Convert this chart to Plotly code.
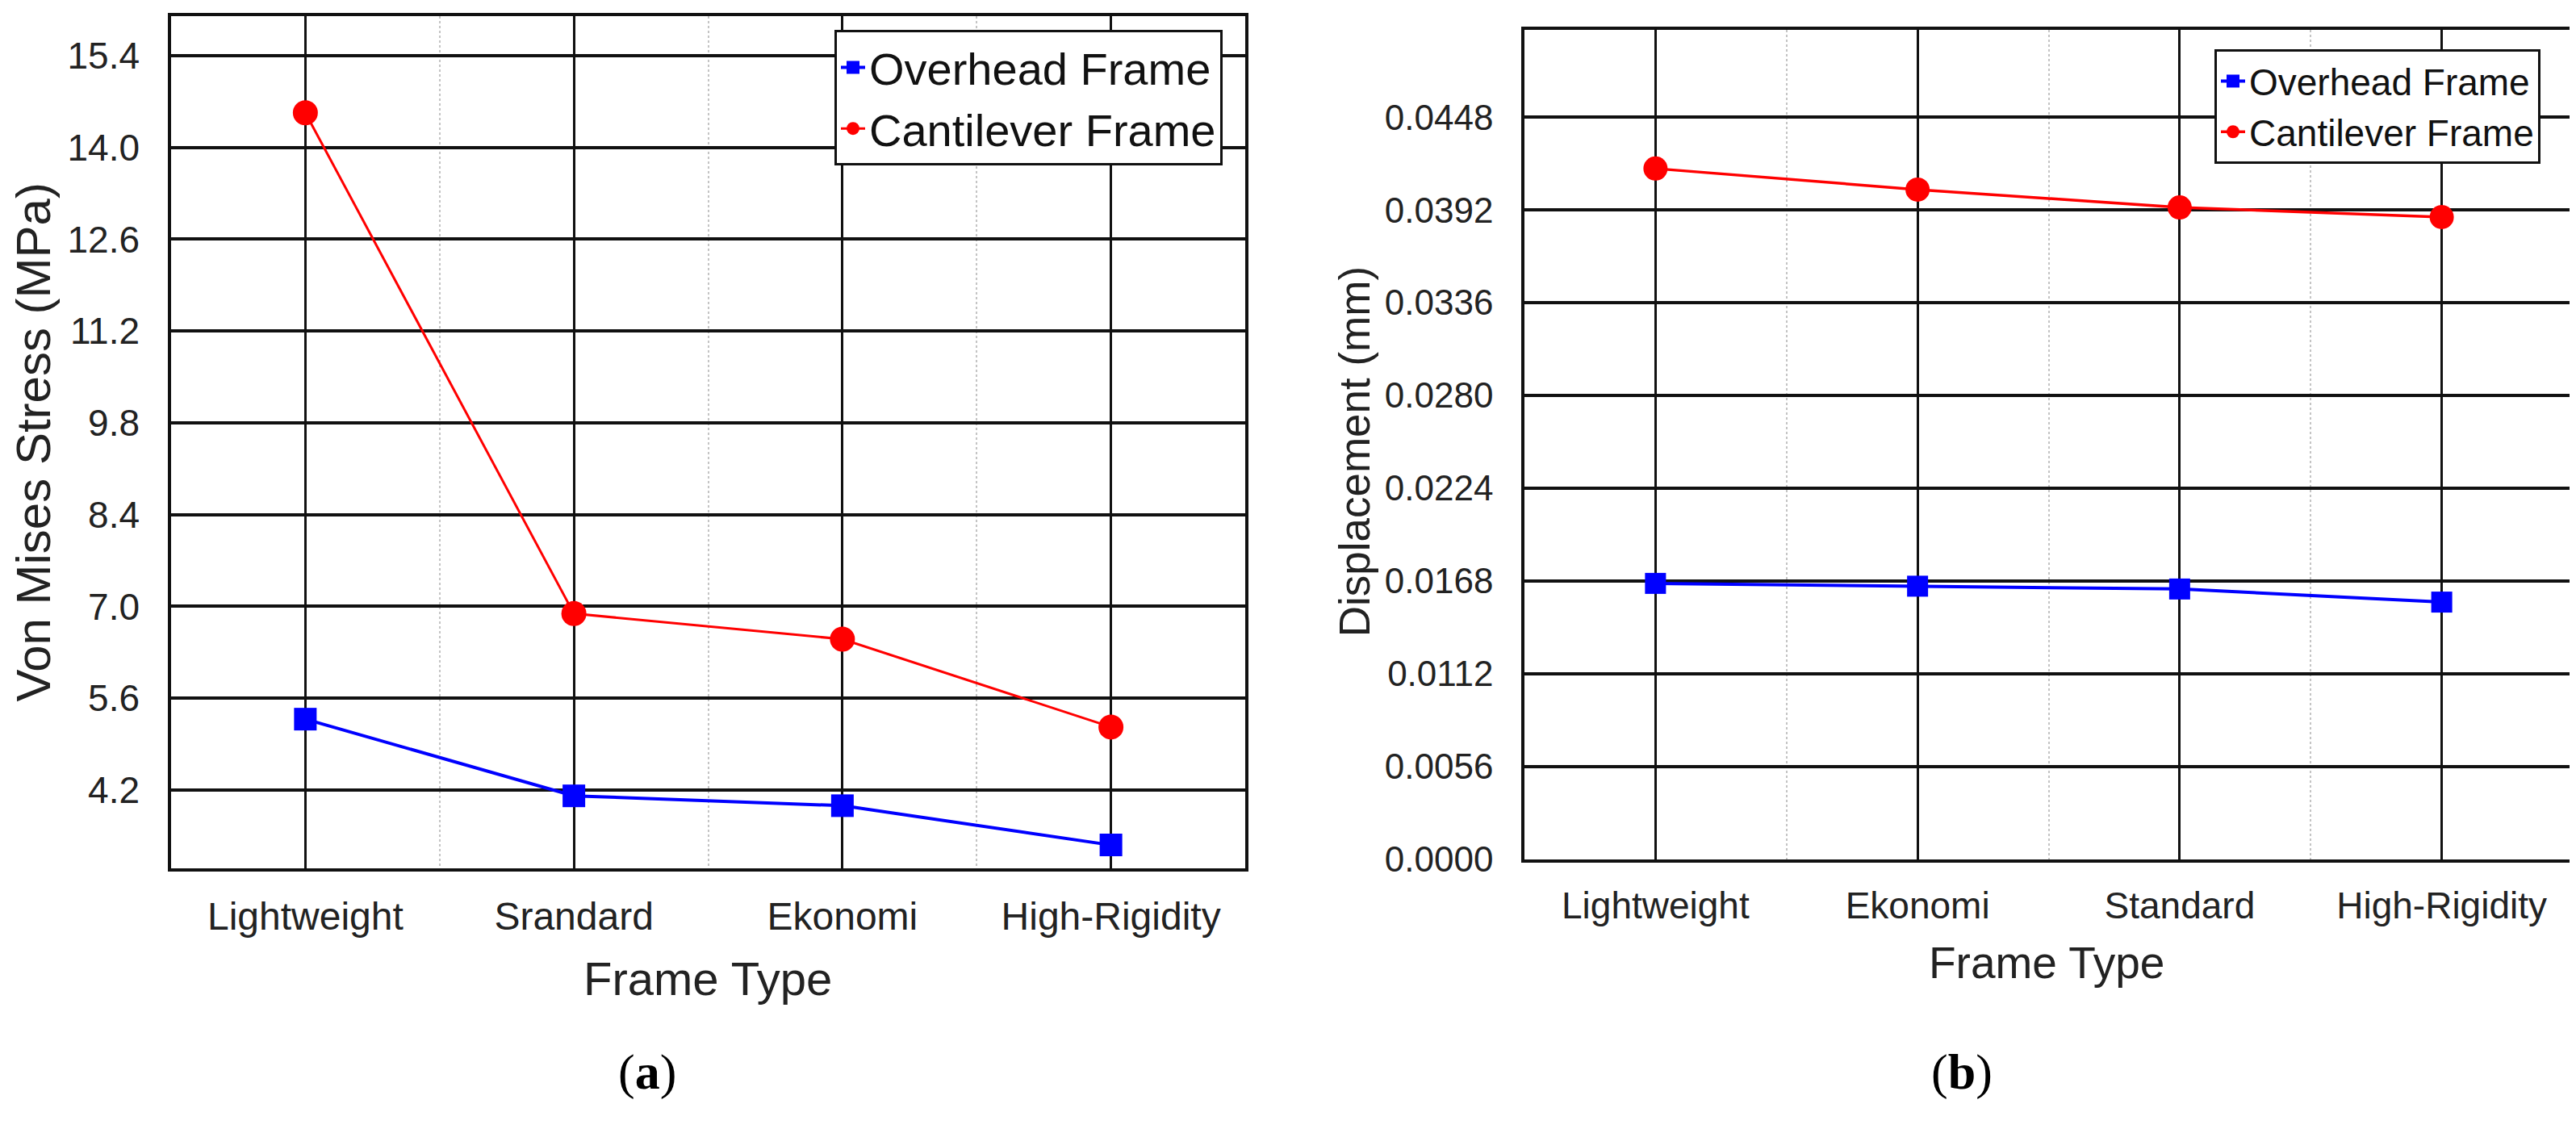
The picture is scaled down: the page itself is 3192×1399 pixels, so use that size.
import plotly.graph_objects as go

# ---------------- data ----------------
frame_types_a = ["Lightweight", "Srandard", "Ekonomi", "High-Rigidity"]
overhead_stress = [5.28, 4.11, 3.96, 3.36]
cantilever_stress = [14.53, 6.89, 6.50, 5.16]

frame_types_b = ["Lightweight", "Ekonomi", "Standard", "High-Rigidity"]
overhead_disp = [0.01665, 0.01648, 0.01631, 0.01552]
cantilever_disp = [0.04170, 0.04043, 0.03935, 0.03877]

stress_ticks = [4.2, 5.6, 7.0, 8.4, 9.8, 11.2, 12.6, 14.0, 15.4]
disp_ticks = [0.0, 0.0056, 0.0112, 0.0168, 0.0224, 0.0280, 0.0336, 0.0392, 0.0448]

series_names = ["Overhead Frame", "Cantilever Frame"]

# ---------------- styling ----------------
W, H = 3192, 1399
FONT = "Liberation Sans, Arial, sans-serif"
TXT = "#222222"
BLUE = "#0000ff"
RED = "#ff0000"

pos_a = list(range(len(frame_types_a)))
pos_b = list(range(len(frame_types_b)))

def px_x(p):
    return p / W

def px_y(p):
    return 1 - p / H

fig = go.Figure()

# left chart
fig.add_trace(go.Scatter(
    x=pos_a, y=overhead_stress, name=series_names[0], mode="lines+markers",
    line=dict(color=BLUE, width=4),
    marker=dict(symbol="square", size=28, color=BLUE),
    xaxis="x", yaxis="y", legend="legend"))
fig.add_trace(go.Scatter(
    x=pos_a, y=cantilever_stress, name=series_names[1], mode="lines+markers",
    line=dict(color=RED, width=3),
    marker=dict(symbol="circle", size=31, color=RED),
    xaxis="x", yaxis="y", legend="legend"))

# right chart
fig.add_trace(go.Scatter(
    x=pos_b, y=overhead_disp, name=series_names[0], mode="lines+markers",
    line=dict(color=BLUE, width=4),
    marker=dict(symbol="square", size=26, color=BLUE),
    xaxis="x2", yaxis="y2", legend="legend2"))
fig.add_trace(go.Scatter(
    x=pos_b, y=cantilever_disp, name=series_names[1], mode="lines+markers",
    line=dict(color=RED, width=3.5),
    marker=dict(symbol="circle", size=30, color=RED),
    xaxis="x2", yaxis="y2", legend="legend2"))

def xaxis_style(domain, labels, positions, size, anchor):
    return dict(
        domain=domain, anchor=anchor,
        range=[-0.5, len(labels) - 0.5],
        tickmode="array", tickvals=positions, ticktext=labels,
        showgrid=True, gridcolor="#111111", gridwidth=2.5,
        minor=dict(tickmode="linear", tick0=0.5, dtick=1, showgrid=True,
                   gridcolor="#c4c4c4", gridwidth=2, griddash="dot"),
        showline=True, linecolor="#111111", linewidth=3.5, mirror=True,
        ticks="", ticklabelstandoff=14,
        tickfont=dict(family=FONT, size=size, color=TXT),
        zeroline=False, fixedrange=True,
    )

def yaxis_style(domain, rng, ticks, fmt, size, anchor):
    return dict(
        domain=domain, anchor=anchor, range=rng,
        tickmode="array", tickvals=ticks, ticktext=[fmt.format(t) for t in ticks],
        showgrid=True, gridcolor="#111111", gridwidth=3.5,
        showline=True, linecolor="#111111", linewidth=3.5, mirror=True,
        ticks="", ticklabelstandoff=26,
        tickfont=dict(family=FONT, size=size, color=TXT),
        zeroline=False, fixedrange=True,
    )

fig.update_layout(
    width=W, height=H,
    margin=dict(l=0, r=0, t=0, b=0),
    paper_bgcolor="white", plot_bgcolor="white",
    font=dict(family=FONT, color=TXT),
    xaxis=xaxis_style([px_x(204), px_x(1535)], frame_types_a, pos_a, 48, "y"),
    yaxis=yaxis_style([px_y(1087), px_y(12.5)], [3.0, 16.0], stress_ticks, "{:.1f}", 46, "x"),
    xaxis2=xaxis_style([px_x(1881), px_x(3180)], frame_types_b, pos_b, 46, "y2"),
    yaxis2=yaxis_style([px_y(1075), px_y(29)], [0.0, 0.0501], disp_ticks, "{:.4f}", 44, "x2"),
    legend=dict(
        x=px_x(1507), y=px_y(30), xanchor="right", yanchor="top",
        xref="paper", yref="paper",
        bgcolor="white", bordercolor="#111111", borderwidth=3,
        font=dict(family=FONT, size=56, color="#111111"),
        tracegroupgap=0,
    ),
    legend2=dict(
        x=px_x(3140), y=px_y(54), xanchor="right", yanchor="top",
        xref="paper", yref="paper",
        bgcolor="white", bordercolor="#111111", borderwidth=3,
        font=dict(family=FONT, size=46, color="#111111"),
        tracegroupgap=0,
    ),
    showlegend=True,
)

annotations = [
    dict(text="Von Mises Stress (MPa)", x=px_x(34), y=px_y(549), textangle=-90,
         font=dict(family=FONT, size=60, color=TXT)),
    dict(text="Frame Type", x=px_x(869), y=px_y(1226),
         font=dict(family=FONT, size=58, color=TXT)),
    dict(text="Displacement (mm)", x=px_x(1670), y=px_y(562), textangle=-90,
         font=dict(family=FONT, size=53, color=TXT)),
    dict(text="Frame Type", x=px_x(2528), y=px_y(1206),
         font=dict(family=FONT, size=55, color=TXT)),
    dict(text="(<b>a</b>)", x=px_x(794), y=px_y(1344),
         font=dict(family="Liberation Serif, Times New Roman, serif", size=62, color="#000000")),
    dict(text="(<b>b</b>)", x=px_x(2423), y=px_y(1344),
         font=dict(family="Liberation Serif, Times New Roman, serif", size=62, color="#000000")),
]
for a in annotations:
    a.update(xref="paper", yref="paper", showarrow=False, xanchor="center", yanchor="middle")
fig.update_layout(annotations=annotations)

fig.write_html("out.html")
